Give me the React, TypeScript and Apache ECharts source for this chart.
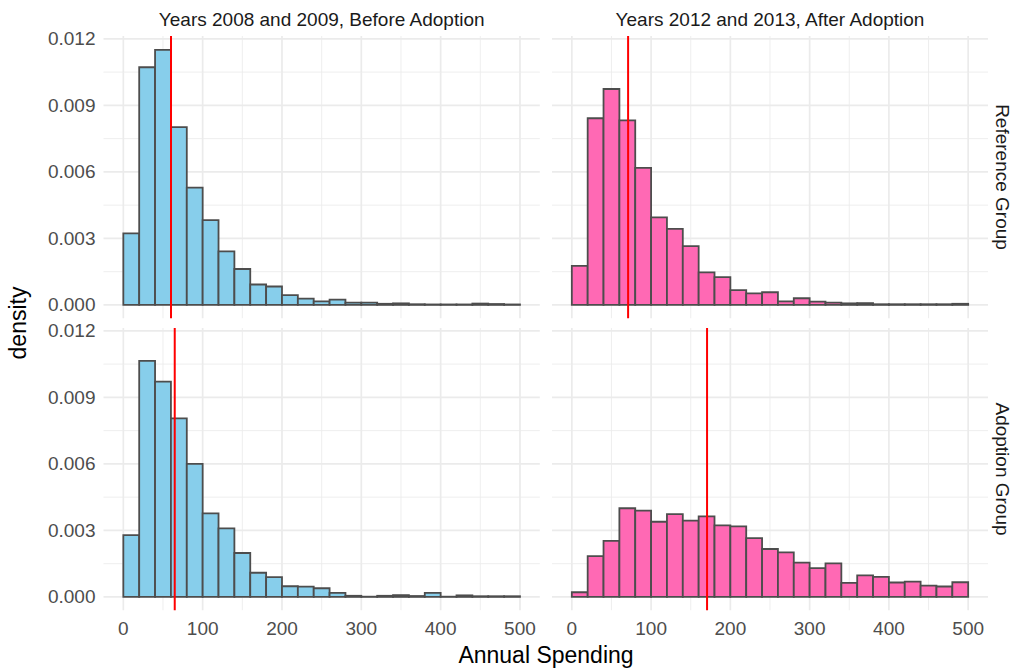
import React, { useEffect, useRef } from "react";
import * as echarts from "echarts";

const binStarts = [0, 20, 40, 60, 80, 100, 120, 140, 160, 180, 200, 220, 240, 260, 280, 300, 320, 340, 360, 380, 400, 420, 440, 460, 480];
const binWidth = 20;

const refBefore = [0.00323, 0.01072, 0.0115, 0.00802, 0.00529, 0.00382, 0.00241, 0.00162, 0.00092, 0.00083, 0.00044, 0.00028, 0.00016, 0.00024, 0.0001, 0.0001, 0.00005, 0.00007, 0.00003, 0.00002, 0.00002, 0.00002, 0.00006, 0.00004, 0.00002];
const refAfter = [0.00176, 0.00842, 0.00974, 0.00832, 0.00618, 0.00395, 0.00343, 0.00265, 0.00147, 0.00125, 0.00067, 0.00052, 0.00057, 0.00016, 0.0003, 0.00015, 0.0001, 0.00007, 0.00008, 0.00003, 0.00003, 0.00003, 0.00003, 0.00003, 0.00005];
const adoptBefore = [0.00279, 0.01065, 0.00971, 0.00805, 0.006, 0.00377, 0.00309, 0.00198, 0.00109, 0.00089, 0.00048, 0.00046, 0.00039, 0.00018, 0.00005, 0.00001, 0.00005, 0.00008, 0.00004, 0.00018, 0.00001, 0.00007, 0.00003, 0.00003, 0.00003];
const adoptAfter = [0.00021, 0.00184, 0.00253, 0.004, 0.00389, 0.00339, 0.00373, 0.00344, 0.00363, 0.00323, 0.00318, 0.00265, 0.00216, 0.00201, 0.00155, 0.0013, 0.00151, 0.00063, 0.00097, 0.0009, 0.00065, 0.00069, 0.00051, 0.00047, 0.00066];

// mean lines (red) per panel: TL, TR, BL, BR
const means = [60.1, 71, 64.8, 170.6];

const colTitles = ["Years 2008 and 2009, Before Adoption", "Years 2012 and 2013, After Adoption"];
const rowTitles = ["Reference Group", "Adoption Group"];

const xMajor = [0, 100, 200, 300, 400, 500];
const xMinor = [50, 150, 250, 350, 450];
const yMajor = [0, 0.003, 0.006, 0.009, 0.012];
const yMinor = [0.0015, 0.0045, 0.0075, 0.0105];

const FONT = "'Liberation Sans', Arial, Helvetica, sans-serif";

export default function App() {
  const ref = useRef<HTMLDivElement>(null);
  useEffect(() => {
    document.body.style.margin = "0";
    const chart = echarts.init(ref.current!, null, { renderer: "svg" });

    const panels = [
      { data: refBefore, fill: "#87CEEB", left: 103.5, top: 36, width: 436.3 },
      { data: refAfter, fill: "#FF69B4", left: 552, top: 36, width: 436 },
      { data: adoptBefore, fill: "#87CEEB", left: 103.5, top: 328, width: 436.3 },
      { data: adoptAfter, fill: "#FF69B4", left: 552, top: 328, width: 436 },
    ];
    const H = 282.2;

    const grids = panels.map((p) => ({ left: p.left, top: p.top, width: p.width, height: H }));
    const xAxes = panels.map((p, i) => ({
      type: "value",
      gridIndex: i,
      min: -25,
      max: 525,
      interval: 25,
      axisLine: { show: false },
      axisTick: { show: false },
      splitLine: { show: false },
      axisLabel: {
        show: i >= 2,
        margin: 9,
        color: "#4D4D4D",
        fontSize: 19,
        fontFamily: FONT,
        formatter: (v: number) => (v >= 0 && Math.abs(v % 100) < 1e-9 ? String(v) : ""),
      },
    }));
    const yAxes = panels.map((p, i) => ({
      type: "value",
      gridIndex: i,
      min: -0.0006,
      max: 0.01213,
      interval: 0.0003,
      axisLine: { show: false },
      axisTick: { show: false },
      splitLine: { show: false },
      axisLabel: {
        show: i % 2 === 0,
        margin: 8,
        color: "#4D4D4D",
        fontSize: 19,
        fontFamily: FONT,
        formatter: (v: number) => {
          const k = Math.round(v / 0.003);
          if (k >= 0 && Math.abs(v - k * 0.003) < 1e-7) return (k * 0.003).toFixed(3);
          return "";
        },
      },
    }));

    const series: any[] = [];
    panels.forEach((p, i) => {
      const gridData: any[] = [];
      xMajor.forEach((v) => gridData.push([v, 0, 0, 1]));
      xMinor.forEach((v) => gridData.push([v, 0, 0, 0]));
      yMajor.forEach((v) => gridData.push([0, v, 1, 1]));
      yMinor.forEach((v) => gridData.push([0, v, 1, 0]));
      series.push({
        type: "custom",
        xAxisIndex: i,
        yAxisIndex: i,
        silent: true,
        z: 0,
        data: gridData,
        renderItem: (params: any, api: any) => {
          const cs = params.coordSys;
          const isH = api.value(2) === 1;
          const major = api.value(3) === 1;
          const pt = api.coord([api.value(0), api.value(1)]);
          const shape = isH
            ? { x1: cs.x, y1: pt[1], x2: cs.x + cs.width, y2: pt[1] }
            : { x1: pt[0], y1: cs.y, x2: pt[0], y2: cs.y + cs.height };
          return {
            type: "line",
            shape,
            style: { stroke: "#EBEBEB", lineWidth: major ? 1.7 : 0.85 },
          };
        },
      });
      series.push({
        type: "custom",
        xAxisIndex: i,
        yAxisIndex: i,
        z: 2,
        data: binStarts.map((b, k) => [b, b + binWidth, p.data[k]]),
        encode: { x: [0, 1], y: 2 },
        renderItem: (params: any, api: any) => {
          const p0 = api.coord([api.value(0), api.value(2)]);
          const p1 = api.coord([api.value(1), 0]);
          return {
            type: "rect",
            shape: { x: p0[0], y: p0[1], width: p1[0] - p0[0], height: p1[1] - p0[1] },
            style: { fill: p.fill, stroke: "#4D4D4D", lineWidth: 1.8 },
          };
        },
      });
      series.push({
        type: "custom",
        xAxisIndex: i,
        yAxisIndex: i,
        z: 3,
        silent: true,
        data: [[means[i], 0]],
        renderItem: (params: any, api: any) => {
          const cs = params.coordSys;
          const pt = api.coord([api.value(0), 0]);
          return {
            type: "line",
            shape: { x1: pt[0], y1: cs.y, x2: pt[0], y2: cs.y + cs.height },
            style: { stroke: "#FF0000", lineWidth: 2 },
          };
        },
      });
    });

    const stripStyle = { fontSize: 19, fontFamily: FONT, fill: "#1A1A1A", align: "center", verticalAlign: "middle" };
    const graphic: any[] = [
      { type: "text", x: 321.7, y: 19, style: { ...stripStyle, text: colTitles[0] } },
      { type: "text", x: 770, y: 19, style: { ...stripStyle, text: colTitles[1] } },
      { type: "text", x: 1002, y: 177, rotation: -Math.PI / 2, style: { ...stripStyle, text: rowTitles[0] } },
      { type: "text", x: 1002, y: 469, rotation: -Math.PI / 2, style: { ...stripStyle, text: rowTitles[1] } },
      {
        type: "text",
        x: 18,
        y: 323,
        rotation: Math.PI / 2,
        style: { text: "density", fontSize: 23, fontFamily: FONT, fill: "#000000", align: "center", verticalAlign: "middle" },
      },
      {
        type: "text",
        x: 546,
        y: 655,
        style: { text: "Annual Spending", fontSize: 23, fontFamily: FONT, fill: "#000000", align: "center", verticalAlign: "middle" },
      },
    ];

    chart.setOption({
      animation: false,
      backgroundColor: "#FFFFFF",
      grid: grids,
      xAxis: xAxes,
      yAxis: yAxes,
      series,
      graphic,
    });
    return () => chart.dispose();
  }, []);
  return <div ref={ref} style={{ position: "absolute", left: 0, top: 0, width: 1018, height: 672 }} />;
}
